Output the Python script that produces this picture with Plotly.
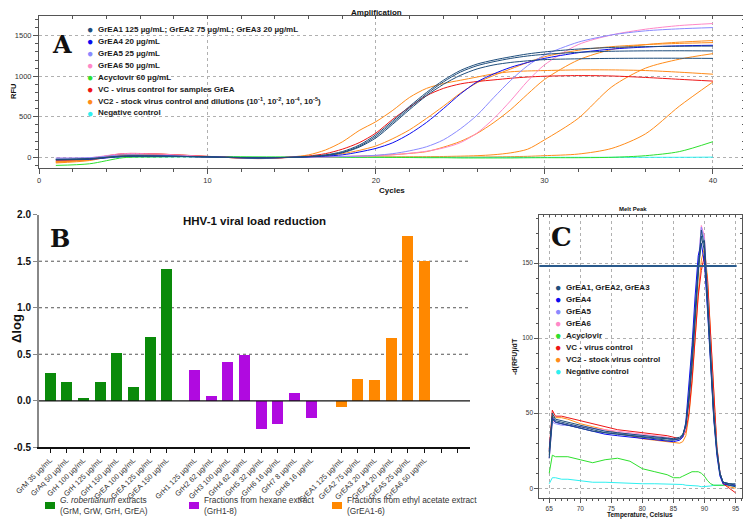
import plotly.graph_objects as go

OFF = 8                      # page body margin of the browser
W, H = 751 - OFF, 521 - OFF  # figure size so the page fits the 751x521 window
F = "Liberation Sans"


def px(x):
    return (x - OFF) / W


def py(y):
    return 1 - (y - OFF) / H


# ---------------- Panel A: amplification curves (RFU vs cycle) ----------------
CYCLES = [1, 3, 5, 7, 10, 13, 15, 16, 17, 18, 19, 20, 21, 22, 23, 24, 25, 26, 27, 28, 29, 30, 32, 34, 36, 38, 40]
A_GREA1 = [-30, -20, 15, 15, 5, -10, 0, 10, 30, 70, 150, 280, 450, 630, 800, 950, 1070, 1150, 1200, 1240, 1275, 1300, 1335, 1355, 1365, 1370, 1372]
A_GREA2 = [-25, -15, 15, 15, 5, -8, 0, 8, 25, 60, 135, 260, 430, 610, 780, 930, 1050, 1130, 1180, 1220, 1250, 1270, 1295, 1308, 1313, 1314, 1312]
A_GREA3 = [-30, -20, 10, 12, 5, -8, 0, 8, 22, 55, 125, 240, 410, 590, 760, 900, 1010, 1090, 1140, 1170, 1190, 1205, 1215, 1220, 1222, 1222, 1220]
A_GREA4 = [-30, -25, 10, 15, 5, -5, 0, 5, 15, 30, 65, 110, 180, 290, 430, 600, 780, 930, 1030, 1110, 1170, 1220, 1290, 1335, 1360, 1375, 1382]
A_GREA5 = [-10, -5, 30, 25, 5, -10, 0, 2, 5, 10, 15, 25, 45, 80, 130, 215, 350, 520, 740, 950, 1130, 1260, 1420, 1510, 1560, 1585, 1600]
A_GREA6 = [-10, -5, 45, 40, 10, -15, 0, 2, 4, 8, 12, 20, 30, 50, 75, 115, 180, 300, 480, 700, 940, 1140, 1390, 1510, 1580, 1625, 1650]
A_ACV = [-100, -80, -5, 5, 10, 5, 5, 5, 3, 0, 0, 0, -2, -3, -5, -5, -8, -8, -8, -8, -6, -5, -5, 0, 20, 70, 193]
A_VC = [-37, -16, 45, 41, 12, -16, 0, 16, 45, 100, 180, 300, 470, 620, 760, 850, 905, 935, 955, 975, 990, 1000, 1008, 1003, 985, 962, 940]
A_VC2_0 = [-70, -40, 40, 40, 10, -15, 5, 30, 90, 190, 330, 440, 580, 740, 850, 910, 950, 990, 1030, 1055, 1065, 1070, 1078, 1078, 1070, 1050, 1025]
A_VC2_1 = [-60, -30, 30, 30, 8, -10, 0, 8, 20, 45, 85, 140, 230, 340, 480, 630, 790, 920, 1010, 1090, 1170, 1240, 1320, 1365, 1390, 1405, 1415]
A_VC2_2 = [-60, -30, 30, 30, 8, -10, 0, 3, 6, 10, 15, 22, 32, 48, 70, 125, 195, 295, 430, 590, 780, 960, 1200, 1330, 1390, 1420, 1440]
A_VC2_4 = [-50, -25, 25, 25, 5, -10, 0, 2, 3, 4, 5, 5, 6, 7, 8, 10, 14, 20, 32, 55, 100, 215, 480, 870, 1100, 1210, 1279]
A_VC2_5 = [-50, -25, 25, 25, 5, -10, 0, 0, 0, 0, 0, 0, 0, 0, 0, 0, 2, 3, 5, 8, 12, 20, 40, 110, 290, 630, 930]
A_NEG = [-20, -10, 5, 5, 5, 0, 0, 0, 0, 0, 0, 0, 0, 0, 0, 0, 0, 0, 0, 0, 0, 0, 0, 0, 0, 0, 2]

A_LEGEND = [
    "GrEA1 125 µg/mL; GrEA2 75 µg/mL; GrEA3 20 µg/mL",
    "GrEA4 20 µg/mL",
    "GrEA5 25 µg/mL",
    "GrEA6 50 µg/mL",
    "Acyclovir 60 µg/mL",
    "VC - virus control for samples GrEA",
    "VC2 - stock virus control and dilutions (10<sup>-1</sup>, 10<sup>-2</sup>, 10<sup>-4</sup>, 10<sup>-5</sup>)",
    "Negative control",
]

# ---------------- Panel B: viral load reduction ----------------
B_LABELS_GR = ["GrM 35 µg/mL", "GrAq 50 µg/mL", "GrH 100 µg/mL", "GrH 125 µg/mL", "GrH 150 µg/mL",
               "GrEA 100 µg/mL", "GrEA 125 µg/mL", "GrEA 150 µg/mL"]
B_VALUES_GR = [0.30, 0.21, 0.03, 0.21, 0.52, 0.15, 0.69, 1.42]
B_LABELS_GRH = ["GrH1 125 µg/mL", "GrH2 62 µg/mL", "GrH3 100 µg/mL", "GrH4 62 µg/mL", "GrH5 32 µg/mL",
                "GrH6 16 µg/mL", "GrH7 8 µg/mL", "GrH8 16 µg/mL"]
B_VALUES_GRH = [0.33, 0.06, 0.42, 0.50, -0.30, -0.25, 0.09, -0.18]
B_LABELS_GREA = ["GrEA1 125 µg/mL", "GrEA2 75 µg/mL", "GrEA3 20 µg/mL", "GrEA4 20 µg/mL",
                 "GrEA5 25 µg/mL", "GrEA6 50 µg/mL"]
B_VALUES_GREA = [-0.06, 0.24, 0.23, 0.68, 1.77, 1.51]
B_YTICKS = [-0.5, 0.0, 0.5, 1.0, 1.5, 2.0]
B_GRID = [0.5, 1.0, 1.5]
B_LEGEND = ["<i>G. robertianum</i> extracts<br>(GrM, GrW, GrH, GrEA)",
            "Fractions from hexane extract<br>(GrH1-8)",
            "Fractions from ethyl acetate extract<br>(GrEA1-6)"]

# ---------------- Panel C: melt peak ----------------
TEMPS = [65, 65.5, 66, 67, 68, 70, 72, 74, 76, 78, 80, 82, 84, 85, 86, 86.5, 87, 87.5, 88, 88.5,
         89, 89.5, 90, 90.5, 91, 91.5, 92, 92.5, 93, 94, 95]
C_GREA1 = [22, 50, 46, 45, 44, 42, 40, 38, 37, 36, 35, 34, 33, 33, 34, 36, 41, 58, 81, 112, 148, 172, 161, 122, 81, 48, 25, 10, 4, 3, 2]
C_GREA2 = [24, 48, 45, 44, 43, 41, 39, 37, 36, 35, 34, 33, 32, 32, 33, 35, 43, 62, 88, 118, 148, 168, 158, 120, 80, 47, 24, 9, 4, 3, 3]
C_GREA3 = [20, 46, 44, 43, 42, 40, 38, 37, 36, 35, 34.5, 33.5, 33, 32.5, 33, 35, 42, 60, 85, 115, 145, 163, 165, 128, 88, 52, 26, 10, 4, 2, 1]
C_GREA4 = [25, 47, 44, 43, 42, 40, 38, 36, 35, 34, 33, 32, 31, 31, 32, 34, 44, 68, 95, 128, 155, 163, 150, 118, 80, 46, 22, 8, 3, 2, 2]
C_GREA5 = [20, 44, 43, 42, 42, 41, 40, 38, 37, 36, 35, 34, 33, 32, 33, 35, 42, 60, 86, 118, 150, 174, 165, 128, 88, 50, 25, 10, 4, 3, 2]
C_GREA6 = [20, 45, 44, 43, 42, 41, 40, 39, 38, 37, 36, 35, 34, 33, 33, 34, 40, 58, 84, 115, 148, 175, 168, 130, 90, 52, 26, 10, 4, 3, 2]
C_ACV = [10, 22, 21, 21, 21, 19, 17, 19, 20, 18, 13, 11, 9, 7, 7, 8, 9, 10, 11, 11, 11, 10, 8, 5, 3, 2, 2, 2, 2, 3, 2]
C_VC = [26, 52, 48, 48, 47, 45, 43, 41, 39, 38, 37, 36, 35, 34, 33, 34, 38, 50, 72, 100, 128, 145, 155, 138, 100, 60, 28, 10, 3, 0, -3]
C_VC2 = [24, 49, 47, 47, 46, 43, 41, 39, 37, 35, 33, 32, 31, 31, 30, 31, 35, 48, 70, 100, 130, 152, 160, 140, 100, 58, 27, 10, 3, 1, 0]
C_NEG = [3, 7, 7, 6, 6, 5, 4, 4, 3.5, 3, 3, 3, 3, 3, 2.5, 2.5, 2, 2, 2, 2, 1.5, 1, 1, 1, 1.5, 2, 2, 2, 2, 2, 1]
C_THRESHOLD = 148
C_LEGEND = ["GrEA1, GrEA2, GrEA3", "GrEA4", "GrEA5", "GrEA6", "Acyclovir",
            "VC - virus control", "VC2 - stock virus control", "Negative control"]

# ---------------- styles ----------------
COL = ["#1f4e7c", "#0a0af0", "#8a8aff", "#ff88c8", "#2ee02e", "#ee1515", "#ff8c1a", "#2ef0f0"]
NAVY, BLUE, LAV, PINK, GREEN, RED, ORANGE, CYAN = COL
BAR_COLORS = ["#0a8a0a", "#b00ae0", "#ff8800"]

A_XRANGE, A_YRANGE = [0, 41.9], [-132, 1743]
C_XRANGE, C_YRANGE = [63.4, 96.0], [-6.3, 182]

fig = go.Figure()

# Panel A traces
a_series = [
    (A_VC2_5, ORANGE), (A_VC2_4, ORANGE), (A_NEG, CYAN), (A_ACV, GREEN),
    (A_VC2_2, ORANGE), (A_VC2_1, ORANGE), (A_VC2_0, ORANGE), (A_VC, RED),
    (A_GREA6, PINK), (A_GREA5, LAV), (A_GREA4, BLUE),
    (A_GREA3, NAVY), (A_GREA2, NAVY), (A_GREA1, NAVY),
]
for vals, c in a_series:
    fig.add_trace(go.Scatter(x=CYCLES, y=vals, mode="lines", line=dict(color=c, width=1, shape="spline", smoothing=0.8),
                             xaxis="x", yaxis="y", showlegend=False, hoverinfo="skip"))

# Panel B bars
GROUP_START = [0, 8.67, 17.47]
b_groups = [(B_LABELS_GR, B_VALUES_GR), (B_LABELS_GRH, B_VALUES_GRH), (B_LABELS_GREA, B_VALUES_GREA)]
tickvals, ticktext = [], []
for gi, (labels, vals) in enumerate(b_groups):
    xs = [GROUP_START[gi] + i for i in range(len(labels))]
    tickvals += xs
    ticktext += labels
    fig.add_trace(go.Bar(x=xs, y=vals, width=0.66, marker=dict(color=BAR_COLORS[gi], line=dict(width=0)),
                         xaxis="x2", yaxis="y2", showlegend=False, hoverinfo="skip"))
last = tickvals[-1]
tickvals += [last + 1, last + 2]
ticktext += [" ", " "]

# Panel C traces
c_series = [
    (C_NEG, CYAN), (C_ACV, GREEN), (C_VC2, ORANGE), (C_VC, RED), (C_GREA6, PINK), (C_GREA5, LAV),
    (C_GREA4, BLUE), (C_GREA3, NAVY), (C_GREA2, NAVY), (C_GREA1, NAVY),
]
for vals, c in c_series:
    fig.add_trace(go.Scatter(x=TEMPS, y=vals, mode="lines", line=dict(color=c, width=1),
                             xaxis="x3", yaxis="y3", showlegend=False, hoverinfo="skip"))

# empty traces that register the mirrored (inner-tick) frame axes
for xa, ya in [("x4", "y"), ("x", "y4"), ("x5", "y3"), ("x3", "y5")]:
    fig.add_trace(go.Scatter(x=[], y=[], xaxis=xa, yaxis=ya, showlegend=False, hoverinfo="skip"))

tick_a = dict(family=F, size=7.5, color="#333")
tick_c = dict(family=F, size=6.5, color="#333")
inner = dict(showticklabels=False, showgrid=False, zeroline=False, showline=False, ticks="inside",
             tickcolor="#555", automargin=False)
fig.update_layout(
    width=W, height=H, margin=dict(l=0, r=0, t=0, b=0, pad=0, autoexpand=False),
    paper_bgcolor="white", plot_bgcolor="white",
    font=dict(family=F),
    bargap=0,
    xaxis=dict(domain=[px(39), px(745)], range=A_XRANGE, anchor="y", showline=True, linecolor="#555",
               linewidth=1, mirror=True, ticks="outside", ticklen=5, tickcolor="#555", tick0=0, dtick=10,
               showgrid=True, gridcolor="#b0b0b0", griddash="dot", zeroline=False, tickfont=tick_a,
               automargin=False,
               minor=dict(dtick=2, ticks="outside", ticklen=3, tickcolor="#555", showgrid=False)),
    yaxis=dict(domain=[py(168), py(16)], range=A_YRANGE, anchor="x", showline=True, linecolor="#555",
               linewidth=1, mirror=True, ticks="outside", ticklen=5, tickcolor="#555", tick0=0, dtick=500,
               showgrid=True, gridcolor="#b0b0b0", griddash="dot", zeroline=False, tickfont=tick_a,
               automargin=False,
               minor=dict(dtick=100, ticks="outside", ticklen=3, tickcolor="#555", showgrid=False)),
    xaxis4=dict(overlaying="x", anchor="y", side="top", range=A_XRANGE, tick0=0, dtick=2, ticklen=3, **inner),
    yaxis4=dict(overlaying="y", anchor="x", side="right", range=A_YRANGE, tick0=0, dtick=100, ticklen=3, **inner),
    xaxis2=dict(domain=[px(39), px(470)], range=[-0.66, 25.2], anchor="y2", showline=True, linecolor="#111",
                linewidth=1.5, ticks="outside", ticklen=4, tickcolor="#111", tickvals=tickvals, ticktext=ticktext,
                tickangle=-45, tickfont=dict(family=F, size=7.4, color="#333"), showgrid=False, zeroline=False,
                automargin=False),
    yaxis2=dict(domain=[py(447.3), py(214.7)], range=[-0.5, 2.0], anchor="x2", showline=True, linecolor="#888",
                linewidth=2, ticks="outside", ticklen=4, tickcolor="#888", tickvals=B_YTICKS,
                ticktext=[f"{v:.1f}" for v in B_YTICKS], automargin=False,
                tickfont=dict(family=F, size=10, color="#111", weight="bold"), showgrid=False, zeroline=False),
    xaxis3=dict(domain=[px(539.3), px(741.7)], range=C_XRANGE, anchor="y3", showline=True, linecolor="#555",
                linewidth=1, mirror=True, ticks="outside", ticklen=4, tickcolor="#555", tick0=65, dtick=5,
                showgrid=True, gridcolor="#b0b0b0", griddash="dot", zeroline=False, automargin=False,
                tickfont=tick_c,
                minor=dict(dtick=1, ticks="outside", ticklen=2, tickcolor="#555", showgrid=False)),
    yaxis3=dict(domain=[py(497.7), py(215)], range=C_YRANGE, anchor="x3", showline=True, linecolor="#555",
                linewidth=1, mirror=True, ticks="outside", ticklen=4, tickcolor="#555", tick0=0, dtick=50,
                showgrid=True, gridcolor="#b0b0b0", griddash="dot", zeroline=False, automargin=False,
                tickfont=tick_c,
                minor=dict(dtick=10, ticks="outside", ticklen=2, tickcolor="#555", showgrid=False)),
    xaxis5=dict(overlaying="x3", anchor="y3", side="top", range=C_XRANGE, tick0=65, dtick=1, ticklen=2, **inner),
    yaxis5=dict(overlaying="y3", anchor="x3", side="right", range=C_YRANGE, tick0=0, dtick=10, ticklen=2, **inner),
)

shapes = []
# Panel B zero line and dotted grid
shapes.append(dict(type="line", xref="x2 domain", yref="y2", x0=0, x1=1, y0=0, y1=0,
                   line=dict(color="#111", width=1.2), layer="above"))
for g in B_GRID:
    shapes.append(dict(type="line", xref="x2 domain", yref="y2", x0=0, x1=1, y0=g, y1=g,
                       line=dict(color="#555", width=1, dash="dot"), layer="below"))
# Panel C threshold line
shapes.append(dict(type="line", xref="x3 domain", yref="y3", x0=0, x1=0.975, y0=C_THRESHOLD, y1=C_THRESHOLD,
                   line=dict(color="#2a5a8c", width=2)))
# Panel B legend swatches
B_LEG_X = [45, 189, 332]
for i, xx in enumerate(B_LEG_X):
    shapes.append(dict(type="rect", xref="paper", yref="paper", x0=px(xx), x1=px(xx + 10),
                       y0=py(509), y1=py(502), fillcolor=BAR_COLORS[i], line=dict(width=0)))
fig.update_layout(shapes=shapes)

ann = []


def text(x, y, s, size, bold=True, color="#111", xanchor="center", angle=0, family=F):
    ann.append(dict(xref="paper", yref="paper", x=px(x), y=py(y), text=s, showarrow=False,
                    xanchor=xanchor, yanchor="middle", textangle=angle,
                    font=dict(family=family, size=size, color=color, weight="bold" if bold else "normal")))


# Panel A texts
text(376, 12, "Amplification", 8)
text(392, 190, "Cycles", 8)
text(13, 92, "RFU", 7.5, angle=-90)
text(62, 44, "A", 24, family="DejaVu Serif")
for i, lab in enumerate(A_LEGEND):
    yy = 29.5 + 11.9 * i
    text(90, yy, "●", 10.5, bold=False, color=COL[i])
    text(96, yy, lab, 8, xanchor="left", color="#1a1a1a")

# Panel B texts
text(254, 221, "HHV-1 viral load reduction", 11.5)
text(16, 329, "Δlog", 13, angle=-90)
text(60, 238, "B", 24, family="DejaVu Serif")
for i, lab in enumerate(B_LEGEND):
    ann.append(dict(xref="paper", yref="paper", x=px(B_LEG_X[i] + 13), y=py(505), text=lab, showarrow=False,
                    xanchor="left", yanchor="middle", align="left",
                    font=dict(family=F, size=8.3, color="#333")))

# Panel C texts
text(633, 209, "Melt Peak", 6)
text(640, 515, "Temperature, Celsius", 6.5)
text(515, 357, "-d(RFU)/dT", 7, angle=-90)
text(561, 237, "C", 26, family="DejaVu Serif")
for i, lab in enumerate(C_LEGEND):
    yy = 287 + 12 * i
    text(558, yy, "●", 10.5, bold=False, color=COL[i])
    text(564, yy, lab, 8, xanchor="left", color="#1a1a1a")

fig.update_layout(annotations=ann)
fig.write_html("out.html")
